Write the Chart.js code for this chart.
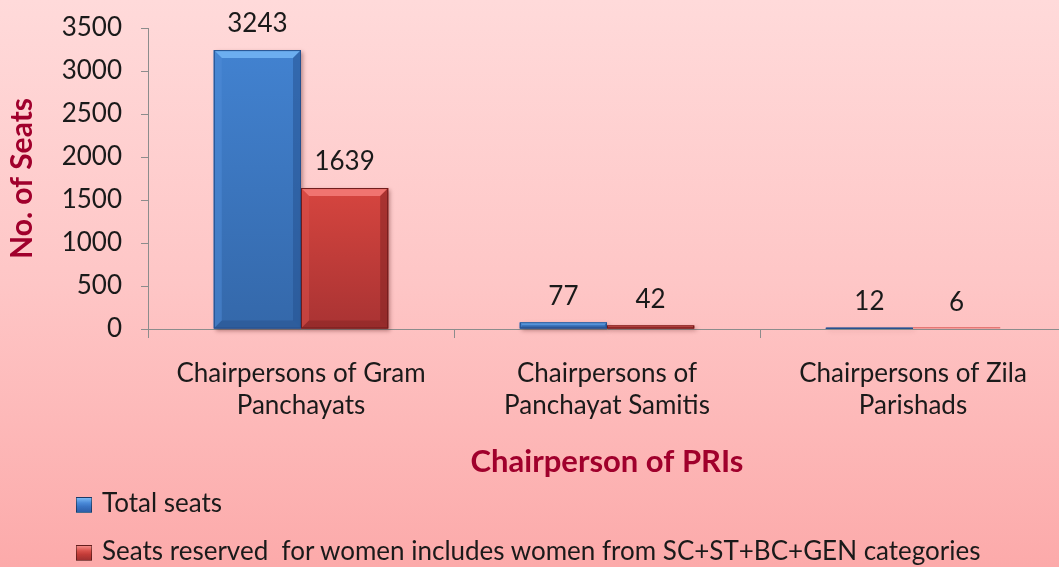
<!DOCTYPE html>
<html>
<head>
<meta charset="utf-8">
<script src="https://cdn.jsdelivr.net/npm/chart.js@4.4.1/dist/chart.umd.min.js"></script>
<style>
  html, body { margin:0; padding:0; width:1059px; height:567px; overflow:hidden; }
  body { background: linear-gradient(to bottom, #ffdada 0%, #fec6c6 50%, #fcaaaa 100%); position:relative; font-family: Lato, "Noto Sans", sans-serif; }
  #wrap { position:absolute; left:0; top:0; width:1070px; height:567px; }
  .leg { position:absolute; left:76px; font-size:26px; color:#1a1a1a; white-space:nowrap; }
  .leg i { display:inline-block; width:16px; height:16px; margin-right:10px; vertical-align:-1px; border:1px solid rgba(0,0,0,0.4); box-sizing:border-box; }
</style>
</head>
<body>
<div id="wrap"><canvas id="c" width="1070" height="567"></canvas></div>
<div class="leg" style="top:486px"><i style="background:linear-gradient(to bottom,#7ab8f4 0%,#4a8ad8 35%,#3a74c4 60%,#2c5ea8 100%)"></i>Total seats</div>
<div class="leg" style="top:534px"><i style="background:linear-gradient(to bottom,#f48a86 0%,#d8504a 35%,#c23c38 60%,#a03030 100%)"></i>Seats reserved &nbsp;for women includes women from SC+ST+BC+GEN categories</div>
<script>
const categories = [["Chairpersons of Gram", "Panchayats"], ["Chairpersons of", "Panchayat Samitis"], ["Chairpersons of Zila", "Parishads"]];
const seriesNames = ["Total seats", "Seats reserved  for women includes women from SC+ST+BC+GEN categories"];
const totalSeats = [3243, 77, 12];
const womenSeats = [1639, 42, 6];
const yMin = 0, yMax = 3500, yStep = 500;

const FONT = 'Lato, "Noto Sans", sans-serif';
const palettes = [
  { top:'#4282d0', bottom:'#3468aa', bevelTop:'#6caef0', bevelL:'#4f8cd8', bevelR:'#24508e', bevelB:'#27528e', edge:'#24508e' },
  { top:'#d6453f', bottom:'#a93333', bevelTop:'#f07470', bevelL:'#d9504a', bevelR:'#7e2222', bevelB:'#862424', edge:'#6e1c1c' }
];

const bevelPlugin = {
  id: 'bevel',
  afterDatasetsDraw(chart) {
    const ctx = chart.ctx;
    chart.data.datasets.forEach((ds, di) => {
      const meta = chart.getDatasetMeta(di);
      const p = palettes[di];
      meta.data.forEach((bar) => {
        const x0 = bar.x - bar.width / 2, x1 = bar.x + bar.width / 2;
        const y0 = Math.min(bar.y, bar.base), y1 = Math.max(bar.y, bar.base);
        const h = y1 - y0, w = x1 - x0;
        if (h < 0.5) {
          ctx.save();
          ctx.fillStyle = p.top; ctx.globalAlpha = 0.6;
          ctx.fillRect(x0, y1 - 1.5, w, 1.5);
          ctx.restore();
          return;
        }
        const b = Math.max(1, Math.min(8, h / 3, w / 4));
        ctx.save();
        ctx.shadowColor = 'rgba(60,0,0,0.35)';
        ctx.shadowBlur = 4; ctx.shadowOffsetX = 2; ctx.shadowOffsetY = 2;
        const g = ctx.createLinearGradient(0, y0, 0, y1);
        g.addColorStop(0, p.top); g.addColorStop(1, p.bottom);
        ctx.fillStyle = g;
        ctx.fillRect(x0, y0, w, h);
        ctx.restore();
        ctx.save();
        ctx.fillStyle = p.bevelTop;
        ctx.beginPath(); ctx.moveTo(x0, y0); ctx.lineTo(x1, y0); ctx.lineTo(x1 - b, y0 + b); ctx.lineTo(x0 + b, y0 + b); ctx.closePath(); ctx.fill();
        ctx.globalAlpha = 0.5;
        ctx.fillStyle = p.bevelL;
        ctx.beginPath(); ctx.moveTo(x0, y0); ctx.lineTo(x0 + b, y0 + b); ctx.lineTo(x0 + b, y1 - b); ctx.lineTo(x0, y1); ctx.closePath(); ctx.fill();
        ctx.fillStyle = p.bevelR;
        ctx.beginPath(); ctx.moveTo(x1, y0); ctx.lineTo(x1 - b, y0 + b); ctx.lineTo(x1 - b, y1 - b); ctx.lineTo(x1, y1); ctx.closePath(); ctx.fill();
        ctx.fillStyle = p.bevelB;
        ctx.beginPath(); ctx.moveTo(x0, y1); ctx.lineTo(x0 + b, y1 - b); ctx.lineTo(x1 - b, y1 - b); ctx.lineTo(x1, y1); ctx.closePath(); ctx.fill();
        ctx.globalAlpha = 1;
        ctx.strokeStyle = p.edge; ctx.lineWidth = 1;
        ctx.strokeRect(x0 + 0.5, y0 + 0.5, w - 1, h - 1);
        ctx.restore();
      });
    });
  }
};

const valueLabels = {
  id: 'valueLabels',
  afterDatasetsDraw(chart) {
    const ctx = chart.ctx;
    ctx.save();
    ctx.font = '26px ' + FONT;
    ctx.fillStyle = '#1a1a1a';
    ctx.textAlign = 'center';
    ctx.textBaseline = 'middle';
    chart.data.datasets.forEach((ds, di) => {
      const meta = chart.getDatasetMeta(di);
      meta.data.forEach((bar, i) => {
        ctx.fillText(String(ds.data[i]), bar.x, Math.min(bar.y, bar.base) - 26);
      });
    });
    ctx.restore();
  }
};

new Chart(document.getElementById('c'), {
  type: 'bar',
  data: {
    labels: categories,
    datasets: [
      { label: seriesNames[0], data: totalSeats, backgroundColor: '#3a74c4', borderWidth: 0 },
      { label: seriesNames[1], data: womenSeats, backgroundColor: '#d0413c', borderWidth: 0 }
    ]
  },
  options: {
    responsive: false,
    animation: false,
    devicePixelRatio: 1,
    layout: { padding: { top: 28, right: 4, left: 0, bottom: 0 } },
    datasets: { bar: { categoryPercentage: 0.57, barPercentage: 1.0 } },
    plugins: { legend: { display: false }, tooltip: { enabled: false } },
    scales: {
      x: {
        offset: true,
        grid: { display: true, drawOnChartArea: false, drawTicks: true, tickLength: 9, color: '#8c8c8c', offset: true },
        border: { display: true, color: '#8c8c8c', width: 1 },
        ticks: { font: { family: FONT, size: 26, lineHeight: 1.23 }, color: '#1a1a1a', padding: 20, maxRotation: 0, autoSkip: false },
        title: { display: true, text: 'Chairperson of PRIs', color: '#a0002c', font: { family: FONT, size: 31, weight: 'bold', lineHeight: 1.2 }, padding: { top: 0, bottom: 86 } },
        afterFit(scale) { scale.height = 238; scale.paddingLeft = 0; scale.paddingRight = 0; }
      },
      y: {
        min: yMin, max: yMax,
        grid: { display: true, drawOnChartArea: false, drawTicks: true, tickLength: 7, color: '#8c8c8c' },
        border: { display: true, color: '#8c8c8c', width: 1 },
        ticks: { stepSize: yStep, font: { family: FONT, size: 26 }, color: '#1a1a1a', padding: 19, callback: (v) => String(v) },
        title: { display: true, text: 'No. of Seats', color: '#a0002c', font: { family: FONT, size: 30, weight: 'bold', lineHeight: 1.2 }, padding: { top: 4, bottom: 0 } },
        afterFit(scale) { scale.width = 148; scale.paddingTop = 0; scale.paddingBottom = 0; }
      }
    }
  },
  plugins: [bevelPlugin, valueLabels]
});
</script>
</body>
</html>
